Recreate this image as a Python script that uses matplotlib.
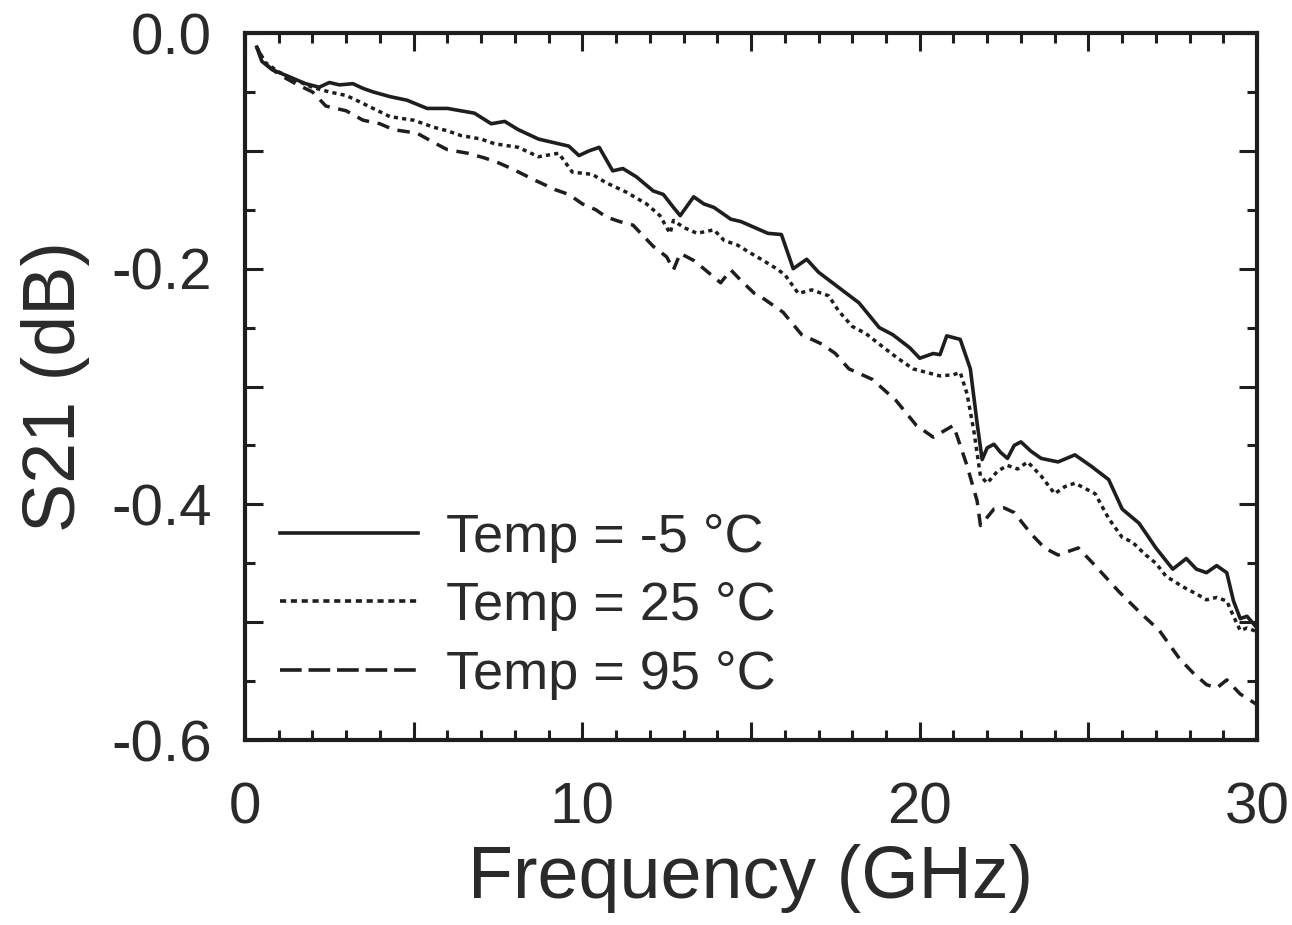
import matplotlib
matplotlib.use('Agg')
import matplotlib.pyplot as plt
from matplotlib.lines import Line2D
from matplotlib.ticker import MultipleLocator, FuncFormatter

plt.rcParams['font.family'] = ['Liberation Sans', 'DejaVu Sans']

# S21 vs frequency
freq_cold = [0.35, 0.5, 0.8, 1.3, 1.8, 2.2, 2.5, 2.8, 3.2, 3.5, 3.8, 4.3, 4.8, 5.4, 6.0, 6.4,
             6.8, 7.3, 7.7, 8.1, 8.7, 9.3, 9.6, 9.9, 10.2, 10.5, 10.9, 11.2, 11.6, 12.1, 12.4,
             12.7, 12.9, 13.3, 13.6, 13.9, 14.4, 14.7, 15.1, 15.5, 15.9, 16.25, 16.65, 17.0,
             17.6, 18.2, 18.8, 19.2, 19.7, 20.0, 20.4, 20.6, 20.8, 21.2, 21.5, 21.7, 21.85,
             22.0, 22.2, 22.4, 22.6, 22.8, 23.0, 23.3, 23.6, 24.1, 24.6, 25.1, 25.6, 26.0,
             26.5, 27.0, 27.5, 27.9, 28.2, 28.5, 28.8, 29.1, 29.3, 29.5, 29.7, 30.0]
s21_cold = [-0.012, -0.024, -0.031, -0.037, -0.043, -0.046, -0.042, -0.044, -0.043, -0.047,
            -0.050, -0.054, -0.057, -0.064, -0.064, -0.066, -0.068, -0.077, -0.075, -0.082,
            -0.090, -0.094, -0.096, -0.104, -0.100, -0.097, -0.117, -0.115, -0.122, -0.134,
            -0.137, -0.148, -0.155, -0.139, -0.145, -0.148, -0.158, -0.160, -0.165, -0.170,
            -0.171, -0.200, -0.192, -0.203, -0.216, -0.229, -0.250, -0.256, -0.267, -0.276,
            -0.272, -0.273, -0.257, -0.260, -0.285, -0.331, -0.362, -0.352, -0.349, -0.356,
            -0.361, -0.350, -0.347, -0.355, -0.361, -0.364, -0.358, -0.368, -0.379, -0.404,
            -0.416, -0.437, -0.455, -0.446, -0.455, -0.458, -0.452, -0.458, -0.482, -0.497,
            -0.495, -0.505]

freq_room = [0.35, 0.6, 1.0, 1.5, 2.0, 2.5, 3.0, 3.3, 3.8, 4.3, 5.0, 5.6, 6.0, 6.4, 7.0, 7.4,
             8.1, 8.7, 9.3, 9.7, 10.3, 10.7, 11.3, 11.9, 12.3, 12.6, 12.7, 13.0, 13.4, 13.9,
             14.2, 14.6, 15.0, 15.3, 15.7, 16.0, 16.4, 16.8, 17.3, 17.6, 18.0, 18.4, 18.8,
             19.3, 19.8, 20.2, 20.6, 21.0, 21.2, 21.4, 21.6, 21.8, 22.0, 22.3, 22.6, 22.9,
             23.2, 23.6, 24.0, 24.3, 24.6, 25.2, 25.6, 26.0, 26.3, 26.7, 27.0, 27.3, 27.8,
             28.2, 28.5, 28.8, 29.1, 29.3, 29.5, 29.7, 30.0]
s21_room = [-0.012, -0.025, -0.033, -0.040, -0.046, -0.050, -0.053, -0.057, -0.064, -0.071,
            -0.074, -0.080, -0.083, -0.087, -0.090, -0.094, -0.097, -0.105, -0.102, -0.118,
            -0.120, -0.127, -0.135, -0.145, -0.155, -0.170, -0.159, -0.165, -0.170, -0.167,
            -0.176, -0.180, -0.187, -0.192, -0.199, -0.205, -0.221, -0.218, -0.223, -0.236,
            -0.249, -0.255, -0.264, -0.275, -0.285, -0.288, -0.291, -0.290, -0.288, -0.306,
            -0.337, -0.376, -0.382, -0.372, -0.367, -0.370, -0.364, -0.376, -0.391, -0.385,
            -0.382, -0.391, -0.412, -0.428, -0.432, -0.443, -0.450, -0.461, -0.470, -0.476,
            -0.481, -0.479, -0.482, -0.495, -0.507, -0.505, -0.508]

freq_hot = [0.35, 0.6, 1.0, 1.5, 2.0, 2.4, 3.0, 3.5, 4.0, 4.4, 5.1, 5.6, 6.0, 6.6, 7.1, 7.5,
            7.9, 8.6, 9.2, 9.6, 10.0, 10.4, 10.7, 11.1, 11.5, 12.1, 12.5, 12.7, 12.9, 13.3,
            13.6, 14.1, 14.4, 14.7, 15.1, 15.3, 15.95, 16.5, 17.1, 17.5, 17.9, 18.6, 19.3,
            19.9, 20.4, 20.7, 21.0, 21.4, 21.7, 21.8, 22.2, 22.5, 22.8, 23.3, 23.7, 24.1,
            24.7, 25.2, 25.9, 26.5, 27.1, 27.7, 28.1, 28.5, 28.8, 29.1, 29.5, 30.0]
s21_hot = [-0.012, -0.026, -0.035, -0.043, -0.050, -0.062, -0.066, -0.074, -0.077, -0.082,
           -0.085, -0.093, -0.099, -0.102, -0.106, -0.110, -0.115, -0.125, -0.133, -0.137,
           -0.145, -0.150, -0.156, -0.160, -0.163, -0.181, -0.190, -0.201, -0.187, -0.193,
           -0.200, -0.212, -0.201, -0.210, -0.221, -0.224, -0.237, -0.256, -0.264, -0.272,
           -0.285, -0.294, -0.312, -0.333, -0.343, -0.338, -0.333, -0.367, -0.397, -0.418,
           -0.404, -0.403, -0.407, -0.425, -0.437, -0.443, -0.437, -0.452, -0.474, -0.491,
           -0.507, -0.531, -0.543, -0.553, -0.556, -0.549, -0.561, -0.570]

labels = ['Temp = -5 °C', 'Temp = 25 °C', 'Temp = 95 °C']

ink = '#1e1e1e'
txt = '#2a2a2a'
fig = plt.figure(figsize=(12.92, 9.25), dpi=100)
ax = fig.add_axes([0.1896, 0.2, 0.7834, 0.7643])

ax.plot(freq_cold, s21_cold, color=ink, lw=2.6, ls='-')
ax.plot(freq_room, s21_room, color=ink, lw=2.5, ls=(0, (1.2, 1.2)))
ax.plot(freq_hot, s21_hot, color=ink, lw=2.5, ls=(0, (3.6, 2.5)))

ax.set_xlim(0, 30)
ax.set_ylim(-0.6, 0.0)

ax.xaxis.set_major_locator(MultipleLocator(5))
ax.xaxis.set_minor_locator(MultipleLocator(1))
ax.yaxis.set_major_locator(MultipleLocator(0.1))
ax.yaxis.set_minor_locator(MultipleLocator(0.05))
ax.xaxis.set_major_formatter(FuncFormatter(lambda v, p: '%d' % round(v) if round(v) % 10 == 0 else ''))
ax.yaxis.set_major_formatter(FuncFormatter(lambda v, p: '%.1f' % v if round(v * 10) % 2 == 0 else ''))

ax.tick_params(which='both', direction='in', top=True, right=True, color=ink,
               labelcolor=txt, labelsize=42, width=2.2)
ax.tick_params(which='major', length=13)
ax.tick_params(which='minor', length=7)
ax.tick_params(axis='x', pad=30)
ax.tick_params(axis='y', pad=24)

for s in ax.spines.values():
    s.set_linewidth(3)
    s.set_color(ink)

ax.set_xlabel('Frequency (GHz)', fontsize=53, color=txt, labelpad=6)
ax.set_ylabel('S21 (dB)', fontsize=53, color=txt, labelpad=15)

# legend keys drawn with their own dash lengths, as in the original
handles = [Line2D([], [], color=ink, lw=2.6, ls='-'),
           Line2D([], [], color=ink, lw=2.6, ls=(0, (1.7, 1.3))),
           Line2D([], [], color=ink, lw=2.6, ls=(0, (6.0, 1.9)))]
leg = ax.legend(handles, labels, loc='lower left', bbox_to_anchor=(0.003, 0.011),
                frameon=False, fontsize=39, handlelength=2.53, handletextpad=0.53,
                labelspacing=0.34, borderaxespad=0.2)
for t in leg.get_texts():
    t.set_color(txt)

fig.savefig('out.png', dpi=100)
